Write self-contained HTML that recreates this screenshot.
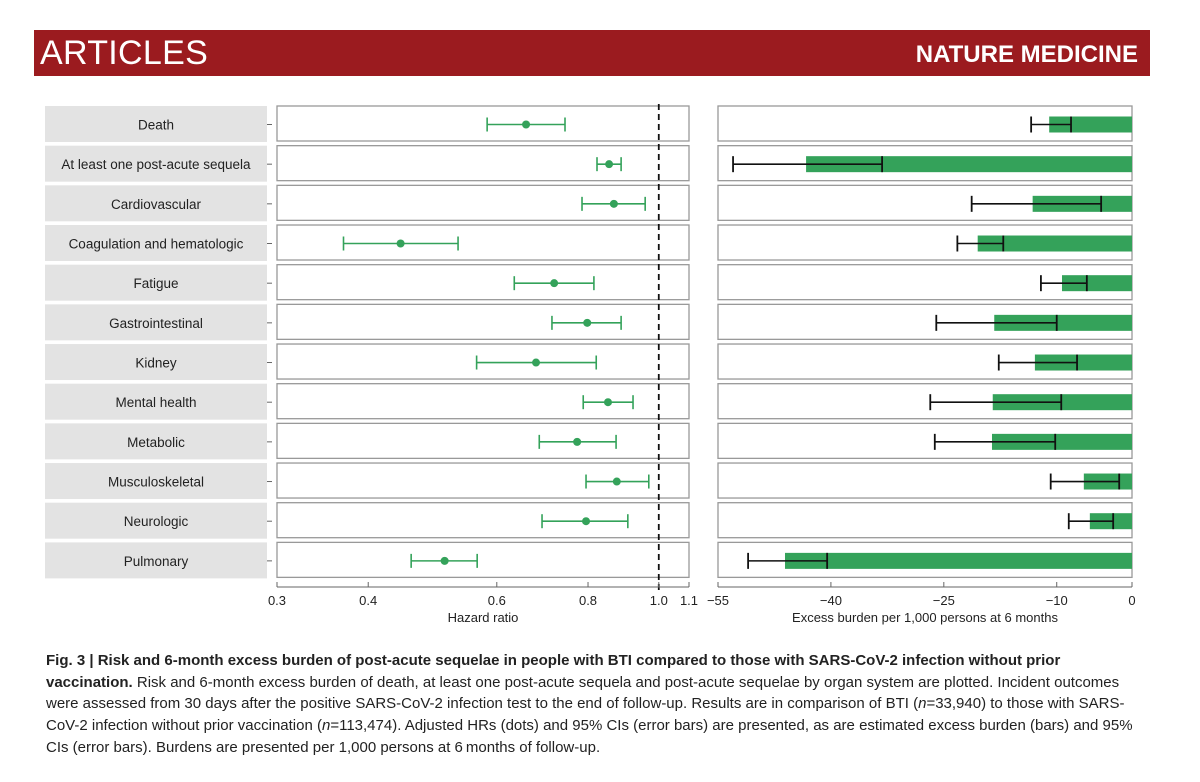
<!DOCTYPE html>
<html><head><meta charset="utf-8">
<style>
body{margin:0;background:#fff;width:1200px;height:782px;overflow:hidden;font-family:"Liberation Sans",sans-serif;}
#hdr{position:absolute;left:34px;top:30px;width:1116px;height:46px;background:#9b1b1f;}
#hdr .a{position:absolute;left:6px;top:4px;color:#fff;font-size:34px;letter-spacing:0.3px;}
#hdr .b{position:absolute;right:12px;top:11px;color:#fff;font-size:24px;font-weight:bold;}
#cap{position:absolute;left:46px;top:650px;width:1095px;font-size:15px;line-height:21.7px;color:#222;}
</style></head><body>
<div id="hdr"><span class="a">ARTICLES</span><span class="b">NATURE MEDICINE</span></div>
<svg id="chart" width="1200" height="782" style="position:absolute;left:0;top:0"></svg>
<div id="cap"><b>Fig. 3 | Risk and 6-month excess burden of post-acute sequelae in people with BTI compared to those with SARS-CoV-2 infection without prior vaccination.</b> Risk and 6-month excess burden of death, at least one post-acute sequela and post-acute sequelae by organ system are plotted. Incident outcomes were assessed from 30 days after the positive SARS-CoV-2 infection test to the end of follow-up. Results are in comparison of BTI (<i>n</i>=33,940) to those with SARS-CoV-2 infection without prior vaccination (<i>n</i>=113,474). Adjusted HRs (dots) and 95% CIs (error bars) are presented, as are estimated excess burden (bars) and 95% CIs (error bars). Burdens are presented per 1,000 persons at 6&#8201;months of follow-up.</div>
<script>
const categories=["Death","At least one post-acute sequela","Cardiovascular","Coagulation and hematologic","Fatigue","Gastrointestinal","Kidney","Mental health","Metabolic","Musculoskeletal","Neurologic","Pulmonary"];
const hr=[0.658,0.855,0.868,0.443,0.719,0.798,0.679,0.852,0.773,0.876,0.795,0.509];
const hrLow=[0.582,0.823,0.785,0.370,0.634,0.714,0.563,0.788,0.686,0.795,0.692,0.458];
const hrHigh=[0.744,0.888,0.958,0.531,0.815,0.888,0.821,0.922,0.874,0.969,0.907,0.564];
const burden=[-11.0,-43.3,-13.2,-20.5,-9.3,-18.3,-12.9,-18.5,-18.6,-6.4,-5.6,-46.1];
const bLow=[-13.4,-53.0,-21.3,-23.2,-12.1,-26.0,-17.7,-26.8,-26.2,-10.8,-8.4,-51.0];
const bHigh=[-8.1,-33.2,-4.1,-17.1,-6.0,-10.0,-7.3,-9.4,-10.2,-1.7,-2.5,-40.5];
const hrTicks=[0.3,0.4,0.6,0.8,1.0,1.1];
const hrTickLabels=["0.3","0.4","0.6","0.8","1.0","1.1"];
const bTicks=[-55,-40,-25,-10,0];
const bTickLabels=["\u221255","\u221240","\u221225","\u221210","0"];
const svg=document.getElementById('chart');
const NS='http://www.w3.org/2000/svg';
function mk(t,a,name){const e=document.createElementNS(NS,t);for(const k in a)e.setAttribute(k,a[k]);


svg.appendChild(e);return e;}
const hx0=277,hx1=689,bx0=718,bx1=1132;
const xH=v=>hx0+(hx1-hx0)*Math.log(v/0.3)/Math.log(1.1/0.3);
const xB=v=>bx0+(bx1-bx0)*(v+55)/55;
const top0=106,step=39.67,bh=35;
const G='#34a25a';
categories.forEach((c,i)=>{
 const y=top0+i*step,cy=y+bh/2+1;
 mk('rect',{x:45,y:y,width:222,height:bh+1,fill:'#e3e3e3'},'row-label-bg');
 const t=mk('text',{x:156,y:cy+5,'text-anchor':'middle','font-size':13.5,fill:'#222','font-family':'Liberation Sans, sans-serif'},'row-label');t.textContent=c;
 mk('line',{x1:267,x2:272,y1:cy,y2:cy,stroke:'#666'},'y-tick');
 mk('rect',{x:hx0,y:y,width:hx1-hx0,height:bh,fill:'#fff',stroke:'#999','stroke-width':1.3},'hr-panel');
 mk('rect',{x:bx0,y:y,width:bx1-bx0,height:bh,fill:'#fff',stroke:'#999','stroke-width':1.3},'burden-panel');
 mk('line',{x1:xH(hrLow[i]),x2:xH(hrHigh[i]),y1:cy,y2:cy,stroke:G,'stroke-width':1.6},'hr-ci');
 [hrLow[i],hrHigh[i]].forEach(v=>mk('line',{x1:xH(v),x2:xH(v),y1:cy-7,y2:cy+7,stroke:G,'stroke-width':1.6},'hr-ci-cap'));
 mk('circle',{cx:xH(hr[i]),cy:cy,r:4,fill:G},'hr-point');
 mk('rect',{x:xB(burden[i]),y:cy-8,width:xB(0)-xB(burden[i]),height:16,fill:G},'burden-bar');
 mk('line',{x1:xB(bLow[i]),x2:xB(bHigh[i]),y1:cy,y2:cy,stroke:'#111','stroke-width':1.6},'burden-ci');
 [bLow[i],bHigh[i]].forEach(v=>mk('line',{x1:xB(v),x2:xB(v),y1:cy-8,y2:cy+8,stroke:'#111','stroke-width':1.8},'burden-ci-cap'));
});
mk('line',{x1:xH(1),x2:xH(1),y1:104,y2:590,stroke:'#111','stroke-width':1.8,'stroke-dasharray':'6,4'},'reference-line');
const ay=587;
mk('line',{x1:hx0,x2:hx1,y1:ay,y2:ay,stroke:'#666'},'hr-axis');
mk('line',{x1:bx0,x2:bx1,y1:ay,y2:ay,stroke:'#666'},'burden-axis');
hrTicks.forEach((v,i)=>{mk('line',{x1:xH(v),x2:xH(v),y1:ay-5,y2:ay,stroke:'#666'},'hr-tick');
 const t=mk('text',{x:xH(v),y:605,'text-anchor':'middle','font-size':13,fill:'#222'},'hr-tick-label');t.textContent=hrTickLabels[i];});
bTicks.forEach((v,i)=>{mk('line',{x1:xB(v),x2:xB(v),y1:ay-5,y2:ay,stroke:'#666'},'burden-tick');
 const t=mk('text',{x:xB(v),y:605,'text-anchor':'middle','font-size':13,fill:'#222'},'burden-tick-label');t.textContent=bTickLabels[i];});
let t=mk('text',{x:483,y:622,'text-anchor':'middle','font-size':13,fill:'#222'},'x-axis-title-hr');t.textContent='Hazard ratio';
t=mk('text',{x:925,y:622,'text-anchor':'middle','font-size':13,fill:'#222'},'x-axis-title-burden');t.textContent='Excess burden per 1,000 persons at 6 months';
</script>
</body></html>
